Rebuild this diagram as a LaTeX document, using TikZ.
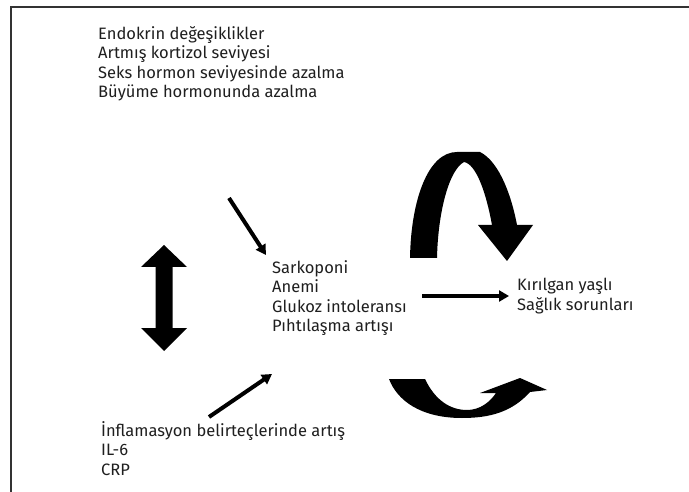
\documentclass[tikz,border=0pt]{standalone}
\usepackage{fontspec}
\setmainfont{Fira Sans}
\usetikzlibrary{arrows.meta}
\begin{document}
\begin{tikzpicture}[x=1pt,y=-1pt,
  lbl/.style={anchor=north west,inner sep=0pt,align=left,font=\fontsize{16.5}{19.5}\selectfont,text=black!88},
  thinarrow/.style={line width=4pt,-{Triangle[length=10pt,width=11pt]}},
  blob/.style={fill=black,draw=none}]
\useasboundingbox (0,0) rectangle (689,492);
\fill[white] (0,0) rectangle (689,492);
\draw[line width=1.3pt, black!80] (11,492) -- (11,7) -- (689,7);

% texts
\node[lbl] (endo) at (98,26) {Endokrin değeşiklikler\\Artmış kortizol seviyesi\\Seks hormon seviyesinde azalma\\Büyüme hormonunda azalma};
\node[lbl] (sark) at (272,260) {Sarkoponi\\Anemi\\Glukoz intoleransı\\Pıhtılaşma artışı};
\node[lbl] (kir) at (517,278) {Kırılgan yaşlı\\Sağlık sorunları};
\node[lbl] (infl) at (101,421) {İnflamasyon belirteçlerinde artış\\IL-6\\CRP};

% thin arrows
\coordinate (a1s) at (229,198);
\coordinate (a1e) at (266,255);
\draw[thinarrow] (a1s) -- (a1e);
\coordinate (a2s) at (209,417);
\coordinate (a2e) at (272,374);
\draw[thinarrow] (a2s) -- (a2e);
\coordinate (a3s) at (422,296);
\coordinate (a3e) at (509,296);
\draw[thinarrow] (a3s) -- (a3e);

% double vertical block arrow
\fill[blob] (164,245) -- (187,267) -- (172.5,267) -- (172.5,328) -- (187,328) -- (164,351)
  -- (141,328) -- (155.5,328) -- (155.5,267) -- (141,267) -- cycle;

% top arch arrow
\fill[blob] (410,258) .. controls (411,200) and (428,152) .. (457,152) -- (480,152)
  .. controls (500,162) and (512,198) .. (517,225)
  -- (533,225) -- (507,261) -- (478,225) -- (492,225)
  .. controls (486,192) and (476,164) .. (464,162)
  .. controls (449,170) and (438,212) .. (437,258) -- cycle;

% bottom curved arrow
\fill[blob] (389,379) -- (425,379)
  .. controls (435,400) and (450,410) .. (467,410)
  .. controls (480,410) and (490,402) .. (496,393)
  -- (480,393) -- (520,378) -- (547,390) -- (530,392)
  .. controls (512,412) and (490,418) .. (462,418)
  .. controls (420,418) and (397,400) .. (389,379) -- cycle;
\end{tikzpicture}
\end{document}
